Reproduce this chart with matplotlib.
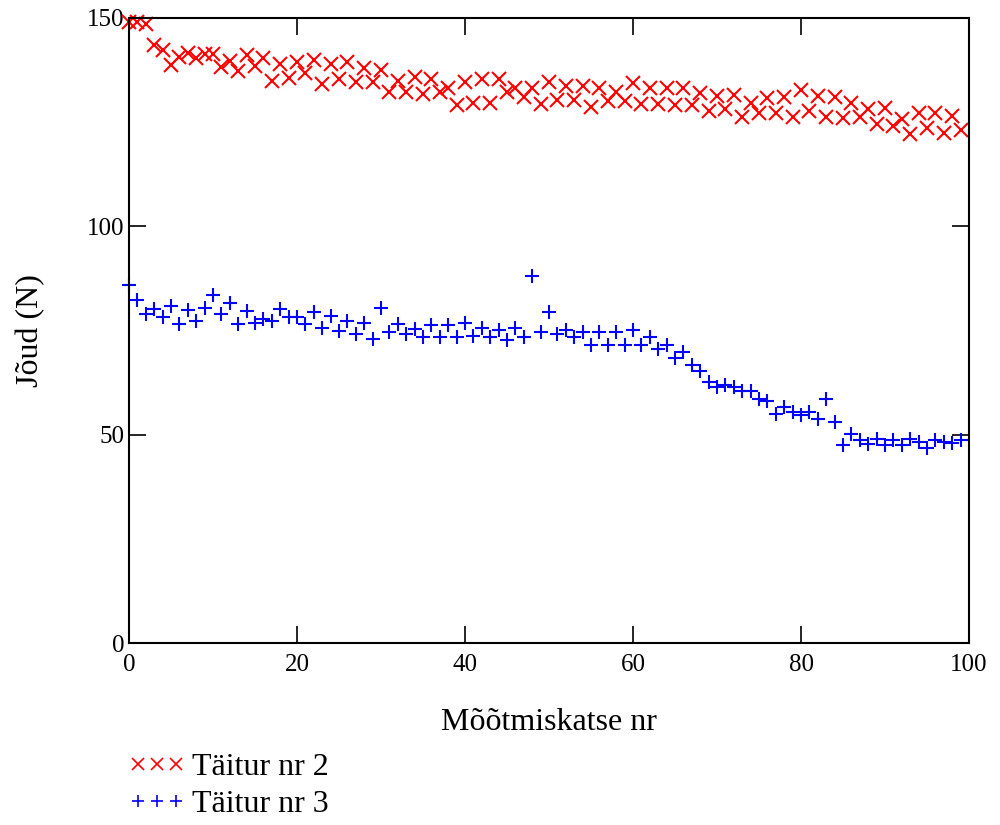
import numpy as np
import matplotlib.pyplot as plt

plt.rcParams['font.family'] = ['Liberation Serif', 'DejaVu Serif']

# measurement number
katse = np.arange(0, 100)

# Täitur nr 2 (N)
taitur2 = [149.0, 149.0, 148.5, 143.5, 142.3, 138.7, 140.7, 141.7, 140.3, 141.3,
           141.3, 138.2, 139.7, 137.3, 141.1, 138.5, 140.3, 134.9, 138.9, 135.7,
           139.5, 136.9, 139.9, 134.2, 138.9, 135.3, 139.5, 134.6, 137.9, 134.6,
           137.5, 132.3, 134.9, 132.3, 135.8, 131.7, 135.3, 132.3, 133.3, 129.1,
           134.6, 129.5, 135.3, 129.5, 135.3, 132.3, 133.3, 131.0, 133.3, 129.4,
           134.6, 130.3, 133.7, 130.3, 133.7, 128.7, 133.3, 130.1, 132.3, 130.1,
           134.3, 129.4, 133.1, 129.4, 133.1, 129.1, 133.3, 129.1, 131.9, 127.7,
           131.3, 128.1, 131.5, 126.3, 129.5, 127.3, 130.7, 127.3, 131.0, 126.3,
           132.7, 127.7, 131.3, 126.3, 131.0, 126.1, 129.5, 126.3, 128.1, 124.6,
           128.5, 124.1, 125.8, 122.2, 127.3, 123.5, 127.3, 122.5, 126.5, 123.0]

# Täitur nr 3 (N)
taitur3 = [85.9, 82.3, 78.9, 80.1, 78.3, 80.9, 76.6, 79.9, 77.3, 80.3,
           83.5, 78.9, 81.7, 76.5, 79.7, 76.9, 77.7, 77.3, 80.1, 78.3,
           78.3, 76.6, 79.4, 75.7, 78.5, 74.9, 77.3, 74.2, 76.7, 73.0,
           80.3, 74.6, 76.6, 74.2, 75.4, 73.4, 76.2, 73.4, 76.2, 73.4,
           76.7, 73.7, 75.5, 73.4, 75.1, 72.7, 75.5, 73.4, 88.1, 74.7,
           79.4, 74.2, 75.1, 73.4, 74.6, 71.5, 74.6, 71.5, 74.6, 71.5,
           75.1, 71.5, 73.4, 70.5, 71.5, 68.5, 69.8, 66.6, 65.2, 62.7,
           61.5, 61.9, 61.5, 60.5, 60.5, 58.6, 58.1, 54.9, 56.6, 55.5,
           54.7, 55.5, 53.8, 58.6, 53.1, 47.5, 50.1, 48.6, 47.7, 49.0,
           47.4, 48.7, 47.4, 49.0, 48.2, 46.7, 48.6, 48.3, 48.1, 48.6]

fig = plt.figure(figsize=(10, 8.25), dpi=100)
ax = fig.add_axes([0.129, 0.2206, 0.84, 0.7576])

ax.plot(katse, taitur2, linestyle='none', marker='x', color='#ff0000',
        markersize=9.5, markeredgewidth=1.5, clip_on=False)
ax.plot(katse, taitur3, linestyle='none', marker='+', color='#0000ff',
        markersize=10, markeredgewidth=1.5, clip_on=False)

ax.set_xlim(0, 100)
ax.set_ylim(0, 150)
ax.set_xticks([0, 20, 40, 60, 80, 100])
ax.set_yticks([0, 50, 100, 150])
ax.tick_params(direction='in', length=12, width=1.2, top=True, right=True,
               labelsize=18, colors='black')
ax.tick_params(axis='x', pad=8)
ax.tick_params(axis='y', pad=3)
for s in ax.spines.values():
    s.set_linewidth(1.5)

ax.set_xlabel('Mõõtmiskatse nr', fontsize=23, labelpad=23)
ax.set_ylabel('Jõud (N)', fontsize=23, labelpad=30)

h2, = plt.plot([], [], linestyle='none', marker='x', color='#ff0000',
               markersize=8, markeredgewidth=1.2)
h3, = plt.plot([], [], linestyle='none', marker='+', color='#0000ff',
               markersize=9, markeredgewidth=1.2)
fig.legend([h2, h3], ['Täitur nr 2', 'Täitur nr 3'], loc='lower left',
           bbox_to_anchor=(0.103, -0.024), frameon=False, fontsize=23,
           numpoints=3, handlelength=1.8, handletextpad=0.2,
           labelspacing=0.235, borderpad=0.3)

fig.savefig('out.png', dpi=100)
